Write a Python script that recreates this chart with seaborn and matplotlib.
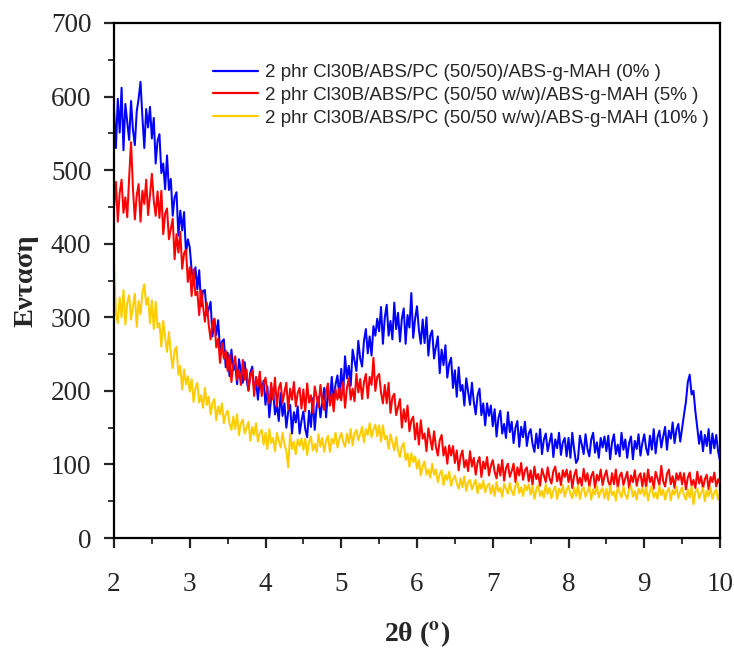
import numpy as np
import pandas as pd
import matplotlib
matplotlib.use("Agg")
import matplotlib.pyplot as plt
import seaborn as sns

# XRD scans, 2θ from 2° to 10° in 0.025° steps
two_theta_start = 2.0
two_theta_stop = 10.0

intensity_0 = [
    583, 530, 597, 551, 612, 527, 590, 565, 541, 594, 555, 534, 580, 597, 620, 572, 530, 583, 558, 586,
    543, 571, 509, 540, 549, 496, 509, 474, 520, 473, 488, 438, 463, 470, 411, 445, 418, 443, 387, 406,
    395, 364, 344, 368, 338, 364, 315, 336, 337, 303, 311, 321, 274, 298, 276, 296, 255, 267, 270, 232,
    252, 220, 256, 228, 236, 209, 243, 227, 211, 239, 215, 201, 225, 233, 201, 214, 188, 216, 200, 214,
    181, 206, 164, 191, 203, 168, 181, 159, 197, 166, 183, 150, 172, 181, 142, 171, 157, 179, 142, 159,
    172, 148, 137, 173, 151, 190, 147, 179, 192, 164, 184, 204, 164, 201, 187, 219, 184, 209, 221, 191,
    230, 196, 247, 217, 234, 207, 256, 241, 227, 268, 244, 233, 268, 284, 251, 274, 248, 288, 275, 298,
    281, 314, 264, 300, 317, 275, 295, 270, 320, 284, 306, 267, 298, 312, 264, 303, 286, 333, 272, 298,
    315, 283, 264, 297, 265, 300, 248, 275, 282, 244, 260, 274, 224, 256, 235, 262, 218, 237, 245, 204,
    228, 192, 232, 200, 208, 180, 217, 199, 181, 211, 185, 168, 194, 203, 167, 183, 153, 183, 166, 180,
    152, 175, 138, 163, 173, 142, 155, 136, 171, 144, 158, 129, 150, 159, 124, 151, 137, 158, 125, 142,
    148, 128, 117, 142, 122, 148, 114, 134, 142, 118, 130, 142, 110, 134, 122, 143, 113, 130, 136, 111,
    136, 109, 143, 120, 102, 107, 139, 127, 114, 141, 121, 111, 134, 143, 116, 130, 109, 136, 123, 138,
    118, 139, 107, 130, 141, 114, 127, 111, 143, 120, 134, 109, 129, 138, 107, 132, 121, 141, 112, 129,
    141, 122, 113, 139, 120, 148, 115, 137, 146, 123, 138, 151, 120, 146, 135, 157, 129, 147, 155, 131,
    150, 168, 185, 212, 222, 195, 200, 172, 150, 128, 145, 118, 140, 125, 148, 115, 142, 122, 140, 118,
    105,
]

intensity_5 = [
    448, 484, 430, 469, 487, 442, 463, 436, 490, 538, 475, 433, 466, 481, 430, 472, 454, 487, 439, 466,
    495, 459, 438, 471, 435, 472, 413, 441, 448, 406, 420, 434, 379, 413, 388, 416, 366, 387, 392, 348,
    368, 329, 365, 330, 335, 303, 337, 315, 294, 320, 290, 270, 293, 298, 259, 271, 238, 265, 244, 255,
    227, 249, 212, 236, 247, 215, 228, 208, 242, 215, 229, 200, 220, 228, 193, 219, 206, 226, 193, 209,
    218, 196, 183, 211, 188, 218, 179, 203, 211, 184, 198, 211, 175, 203, 188, 212, 179, 197, 204, 176,
    202, 172, 210, 184, 194, 170, 206, 192, 178, 208, 186, 174, 200, 210, 180, 196, 172, 202, 188, 204,
    187, 212, 177, 204, 217, 188, 203, 186, 223, 198, 216, 189, 212, 223, 190, 219, 208, 245, 200, 219,
    223, 198, 183, 208, 183, 211, 170, 191, 196, 167, 178, 189, 150, 175, 158, 180, 145, 160, 165, 134,
    156, 127, 160, 135, 142, 118, 149, 135, 120, 145, 124, 112, 133, 140, 112, 124, 101, 126, 112, 125,
    102, 119, 92, 111, 119, 96, 106, 91, 118, 97, 109, 86, 103, 110, 83, 104, 94, 110, 85, 98,
    106, 90, 81, 100, 85, 106, 78, 95, 101, 83, 91, 101, 76, 96, 85, 102, 79, 92, 96, 77,
    92, 72, 97, 80, 87, 71, 94, 85, 76, 96, 81, 74, 91, 97, 77, 88, 72, 92, 83, 93,
    76, 91, 68, 85, 93, 73, 82, 71, 94, 77, 88, 69, 84, 90, 68, 86, 78, 93, 72, 84,
    92, 77, 70, 88, 73, 93, 68, 84, 89, 72, 81, 90, 67, 85, 76, 92, 71, 83, 88, 70,
    88, 68, 93, 76, 83, 67, 90, 81, 72, 98, 77, 70, 87, 93, 73, 84, 68, 88, 79, 89,
    73, 88, 66, 82, 89, 71, 79, 68, 90, 74, 84, 67, 80, 86, 66, 83, 76, 89, 70, 80,
    74,
]

intensity_10 = [
    372, 307, 292, 327, 300, 337, 290, 320, 330, 297, 314, 332, 287, 322, 304, 334, 345, 317, 327, 292,
    323, 284, 321, 286, 292, 260, 295, 273, 253, 280, 251, 231, 255, 260, 222, 234, 202, 229, 209, 220,
    199, 216, 185, 204, 211, 184, 194, 177, 204, 181, 192, 168, 183, 189, 160, 179, 168, 183, 156, 168,
    173, 156, 147, 165, 148, 168, 140, 156, 161, 142, 149, 158, 132, 151, 140, 156, 131, 143, 147, 127,
    143, 121, 148, 129, 136, 118, 143, 132, 123, 143, 127, 118, 96, 142, 121, 131, 114, 134, 125, 135,
    120, 135, 113, 130, 138, 119, 128, 117, 141, 124, 136, 117, 132, 139, 117, 135, 128, 143, 123, 135,
    143, 131, 124, 142, 129, 148, 126, 142, 147, 133, 141, 151, 130, 148, 140, 156, 137, 148, 154, 138,
    153, 131, 153, 134, 139, 121, 141, 130, 119, 137, 119, 110, 125, 129, 106, 115, 97, 115, 103, 111,
    94, 106, 85, 98, 104, 86, 93, 82, 101, 86, 93, 76, 87, 92, 72, 86, 79, 90, 71, 80,
    85, 74, 67, 81, 69, 84, 64, 76, 79, 66, 73, 79, 61, 74, 67, 78, 62, 71, 74, 60,
    72, 57, 76, 63, 68, 56, 74, 67, 60, 75, 64, 58, 71, 76, 61, 69, 57, 72, 65, 73,
    59, 71, 53, 66, 72, 57, 64, 55, 73, 60, 68, 54, 65, 70, 53, 67, 61, 72, 56, 65,
    71, 60, 54, 68, 57, 72, 53, 65, 69, 56, 63, 70, 52, 66, 59, 71, 55, 64, 68, 54,
    67, 52, 71, 58, 63, 51, 69, 62, 55, 70, 59, 53, 66, 71, 56, 64, 52, 67, 60, 68,
    57, 69, 51, 64, 70, 55, 62, 53, 71, 58, 66, 52, 63, 68, 51, 65, 59, 70, 54, 63,
    69, 58, 52, 66, 55, 70, 46, 63, 67, 54, 61, 68, 50, 64, 57, 69, 53, 62, 66, 52,
    62,
]

series_labels = [
    "2 phr Cl30B/ABS/PC (50/50)/ABS-g-MAH (0% )",
    "2 phr Cl30B/ABS/PC (50/50 w/w)/ABS-g-MAH (5% )",
    "2 phr Cl30B/ABS/PC (50/50 w/w)/ABS-g-MAH (10% )",
]
series_colors = ["#0000FF", "#FF0000", "#FFCC00"]

x_ticks = [2, 3, 4, 5, 6, 7, 8, 9, 10]
y_ticks = [0, 100, 200, 300, 400, 500, 600, 700]

frames = []
for label, values in zip(series_labels, [intensity_0, intensity_5, intensity_10]):
    two_theta = np.linspace(two_theta_start, two_theta_stop, len(values))
    frames.append(pd.DataFrame({"two_theta": two_theta, "intensity": values, "sample": label}))
df = pd.concat(frames, ignore_index=True)

sns.set_style("ticks")
plt.rcParams["font.family"] = ["Liberation Serif", "DejaVu Serif"]
plt.rcParams["mathtext.fontset"] = "stix"

W, H = 734, 651
fig = plt.figure(figsize=(W / 100, H / 100), dpi=100)
ax = fig.add_axes([114 / W, 1 - 538 / H, 606 / W, 515 / H])

sns.lineplot(
    data=df, x="two_theta", y="intensity", hue="sample",
    palette=dict(zip(series_labels, series_colors)),
    estimator=None, sort=False, linewidth=1.45, ax=ax, legend=False,
)

ax.set_xlim(2, 10)
ax.set_ylim(0, 700)
ax.set_xticks(x_ticks)
ax.set_yticks(y_ticks)
ax.set_xticks(np.arange(2.5, 10, 1.0), minor=True)
ax.set_yticks(np.arange(50, 700, 100), minor=True)
ax.tick_params(axis="both", which="major", direction="out", length=7.2, width=1.6,
               labelsize=19.5, top=False, right=False)
ax.tick_params(axis="both", which="minor", direction="out", length=4.5, width=1.3,
               top=False, right=False)
ax.tick_params(axis="x", which="major", pad=17)
ax.tick_params(axis="y", which="major", pad=9)
for side in ["left", "right", "top", "bottom"]:
    ax.spines[side].set_visible(True)
    ax.spines[side].set_linewidth(1.6)
    ax.spines[side].set_color("black")

ax.set_xlabel(r"2θ ($\mathbf{^{o}}$)", fontsize=20, fontweight="bold")
ax.set_ylabel("Ενταση", fontsize=20.5, fontweight="bold")
ax.xaxis.set_label_coords(0.5, -0.157)
ax.yaxis.set_label_coords(-0.125, 0.5)

handles = [plt.Line2D([], [], color=c, linewidth=1.6) for c in series_colors]
ax.legend(handles, series_labels, loc="upper left", bbox_to_anchor=(0.151, 0.935),
          frameon=False, prop={"family": "Liberation Sans", "size": 13.5},
          handlelength=2.4, handletextpad=0.37, labelspacing=0.3, borderaxespad=0)

fig.savefig("out.png", dpi=100, facecolor="white")
